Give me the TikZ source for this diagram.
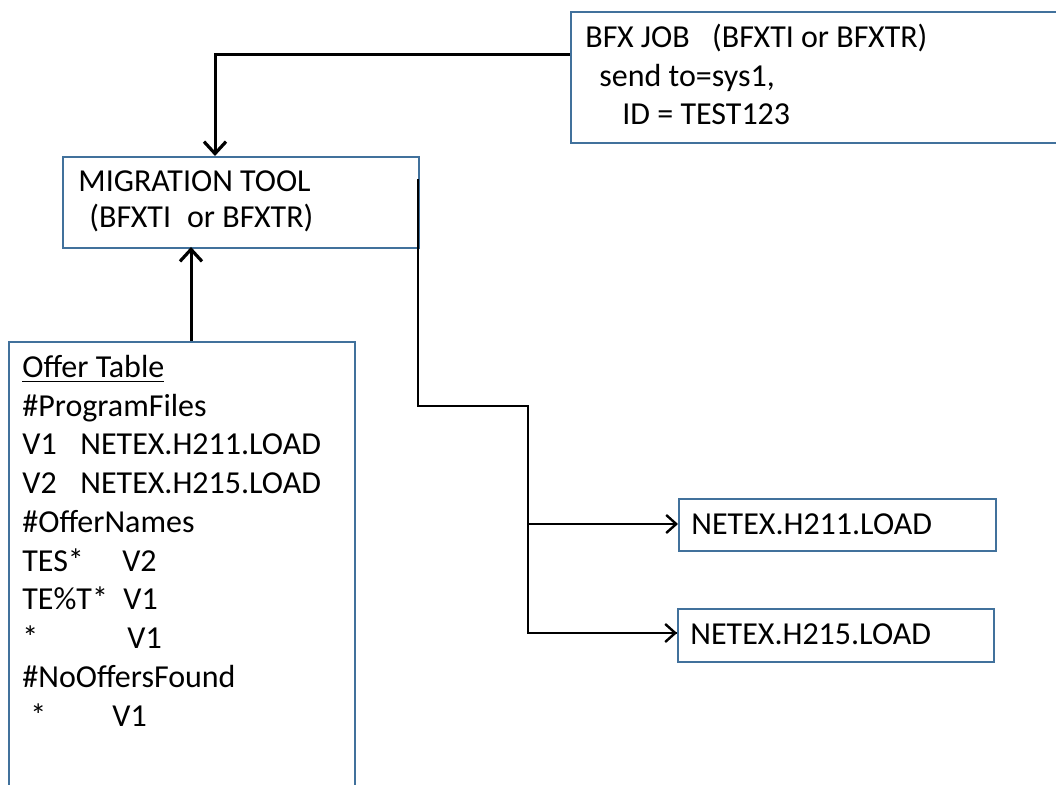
\documentclass[tikz,border=0pt]{standalone}
\usepackage{fontspec}
\setmainfont{Carlito}
\usetikzlibrary{arrows.meta}
\definecolor{boxblue}{RGB}{65,113,156}
\begin{document}
\begin{tikzpicture}[x=0.5pt,y=-0.5pt,
  box/.style={draw=boxblue,line width=1pt,rectangle,inner sep=0pt,anchor=north west},
  txt/.style={anchor=base west,inner sep=0pt,font=\fontsize{16}{19.5}\selectfont},
  thick arrow/.style={line width=1.5pt,-{Straight Barb[length=6pt,width=11pt,line width=1.6pt]}},
  thin arrow/.style={line width=1pt,-{Straight Barb[length=5pt,width=9pt,line width=1.2pt]}},
  thin line/.style={line width=1pt}]
\useasboundingbox (0,0) rectangle (1056,785);
\clip (0,0) rectangle (1056,785);
% boxes
\node[box,minimum width=243pt,minimum height=65.5pt] (bfx) at (570,11) {};
\node[box,minimum width=178pt,minimum height=45.5pt] (mig) at (62,156) {};
\node[box,minimum width=173pt,minimum height=240pt] (offer) at (8,341) {};
\node[box,minimum width=158.5pt,minimum height=26pt] (h211) at (678,498) {};
\node[box,minimum width=158pt,minimum height=26.5pt] (h215) at (677,608) {};
% texts
\node[txt] (bfx1) at (585,48) {BFX JOB\hspace*{0.7em}(BFXTI or BFXTR)};
\node[txt] (bfx2) at (599,87) {send to=sys1,};
\node[txt] (bfx3) at (622,125) {ID = TEST123};
\node[txt] (mig1) at (78,192) {MIGRATION TOOL};
\node[txt] (mig2) at (89,228) {(BFXTI\hspace*{0.5em}or BFXTR)};
\node[txt] (o1) at (22,378) {\underline{Offer Table}};
\node[txt] (o2) at (22,417) {\#ProgramFiles};
\node[txt] (o3) at (22,455) {\makebox[29pt][l]{V1}NETEX.H211.LOAD};
\node[txt] (o4) at (22,494) {\makebox[29pt][l]{V2}NETEX.H215.LOAD};
\node[txt] (o5) at (22,533) {\#OfferNames};
\node[txt] (o6) at (22,572) {\makebox[50pt][l]{TES*}V2};
\node[txt] (o7) at (22,610) {\makebox[50.5pt][l]{TE\%T*}V1};
\node[txt] (o8) at (22,649) {\makebox[52.5pt][l]{*}V1};
\node[txt] (o9) at (22,688) {\#NoOffersFound};
\node[txt] (o10) at (22,727) {\makebox[45pt][l]{\hspace*{4pt}*}V1};
\node[txt] (r1) at (691,535) {NETEX.H211.LOAD};
\node[txt] (r2) at (690,645) {NETEX.H215.LOAD};
% connectors
\coordinate (c1) at (215,55);
\draw[thick arrow] (bfx.west |- c1) -- (c1) -- (c1 |- mig.north);
\draw[thick arrow] (191,341) -- (191,247);
\coordinate (m1) at (418,179);
\coordinate (m2) at (418,406);
\coordinate (m3) at (528,406);
\coordinate (m4) at (528,633);
\draw[thin line] (m1) -- (m2) -- (m3) -- (m4) -- (h215.west |- m4);
\draw[thin arrow] (m4) -- (h215.west |- m4);
\draw[thin arrow] (528,524) -- (h211.west |- 528,524);
\end{tikzpicture}
\end{document}
